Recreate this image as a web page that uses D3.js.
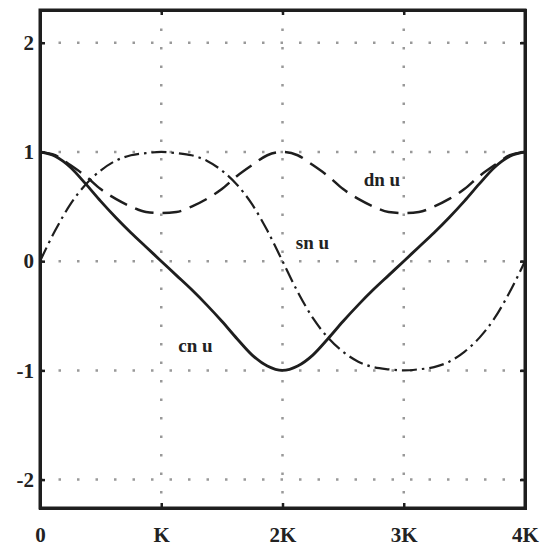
<!DOCTYPE html>
<html>
<head>
<meta charset="utf-8">
<script src="https://cdn.jsdelivr.net/npm/d3@7"></script>
<style>
  body { margin: 0; background: #fff; }
  text { font-family: "Liberation Serif", "DejaVu Serif", serif; fill: #222; }
</style>
</head>
<body>
<div id="chart"></div>
<script>
// u measured in multiples of K
const uK = [0, 0.125, 0.25, 0.375, 0.5, 0.625, 0.75, 0.875, 1,
  1.125, 1.25, 1.375, 1.5, 1.625, 1.75, 1.875, 2,
  2.125, 2.25, 2.375, 2.5, 2.625, 2.75, 2.875, 3,
  3.125, 3.25, 3.375, 3.5, 3.625, 3.75, 3.875, 4];

const snValues = [0, .28, .52, .70, .83, .92, .97, .99, 1,
  .99, .97, .92, .83, .70, .52, .28, 0,
  -.28, -.52, -.70, -.83, -.92, -.97, -.99, -1,
  -.99, -.97, -.92, -.83, -.70, -.52, -.28, 0];

const cnValues = [1, .96, .86, .71, .55, .40, .26, .13, 0,
  -.13, -.26, -.40, -.55, -.71, -.86, -.96, -1,
  -.96, -.86, -.71, -.55, -.40, -.26, -.13, 0,
  .13, .26, .40, .55, .71, .86, .96, 1];

const dnValues = [1, .97, .88, .78, .66, .57, .50, .45, .44,
  .45, .50, .57, .66, .78, .88, .97, 1,
  .97, .88, .78, .66, .57, .50, .45, .44,
  .45, .50, .57, .66, .78, .88, .97, 1];

const xTicks = [0, 1, 2, 3, 4];
const xTickLabels = ["0", "K", "2K", "3K", "4K"];
const yTicks = [-2, -1, 0, 1, 2];
const yTickLabels = ["-2", "-1", "0", "1", "2"];

const seriesNames = ["sn u", "cn u", "dn u"];
const labelAt = { "dn u": [2.67, 0.69], "sn u": [2.11, 0.11], "cn u": [1.14, -0.83] };

const margin = { top: 10, right: 19, bottom: 43, left: 40 },
  width = 544 - margin.left - margin.right,
  height = 551 - margin.top - margin.bottom;

const svg = d3.select("#chart")
  .append("svg")
    .attr("width", width + margin.left + margin.right)
    .attr("height", height + margin.top + margin.bottom)
  .append("g")
    .attr("transform", `translate(${margin.left},${margin.top})`);

const x = d3.scaleLinear().domain([0, 4]).range([0, width]);
const y = d3.scaleLinear().domain([-2.26, 2.3]).range([height, 0]);

// dotted grid
svg.selectAll("xGrid")
  .data(xTicks.slice(1, -1))
  .enter()
  .append("line")
    .attr("x1", d => x(d)).attr("x2", d => x(d))
    .attr("y1", 0).attr("y2", height)
    .attr("stroke", "#999")
    .attr("stroke-width", 2.5)
    .attr("stroke-dasharray", "2.5,16");

svg.selectAll("yGrid")
  .data(yTicks)
  .enter()
  .append("line")
    .attr("x1", 0).attr("x2", width)
    .attr("y1", d => y(d)).attr("y2", d => y(d))
    .attr("stroke", "#999")
    .attr("stroke-width", 2.5)
    .attr("stroke-dasharray", "2.5,16");

// curves
const line = d3.line()
  .x(d => x(d[0]))
  .y(d => y(d[1]))
  .curve(d3.curveMonotoneX);

const series = [
  { name: "dn u", values: dnValues, dash: "19,9", w: 2.5 },
  { name: "sn u", values: snValues, dash: "15,5,2.5,5", w: 2.2 },
  { name: "cn u", values: cnValues, dash: null, w: 2.8 }
];

svg.selectAll("myLines")
  .data(series)
  .enter()
  .append("path")
    .attr("d", d => line(uK.map((u, i) => [u, d.values[i]])))
    .attr("fill", "none")
    .attr("stroke", "#1e1e1e")
    .attr("stroke-width", d => d.w)
    .attr("stroke-dasharray", d => d.dash);

// curve labels
svg.selectAll("myLabels")
  .data(seriesNames)
  .enter()
  .append("text")
    .attr("x", d => x(labelAt[d][0]))
    .attr("y", d => y(labelAt[d][1]))
    .text(d => d)
    .style("font-size", "19px")
    .style("font-weight", "bold");

// frame with inward ticks
const axB = svg.append("g").attr("transform", `translate(0,${height})`)
  .call(d3.axisBottom(x).tickValues(xTicks).tickSize(-5).tickFormat((d, i) => xTickLabels[i]).tickPadding(19));
const axT = svg.append("g")
  .call(d3.axisTop(x).tickValues(xTicks).tickSize(-5).tickFormat(""));
const axL = svg.append("g")
  .call(d3.axisLeft(y).tickValues(yTicks).tickSize(-5).tickFormat((d, i) => yTickLabels[i]).tickPadding(6));
const axR = svg.append("g").attr("transform", `translate(${width},0)`)
  .call(d3.axisRight(y).tickValues(yTicks).tickSize(-5).tickFormat(""));

[axB, axT, axL, axR].forEach(g => {
  g.select(".domain").attr("stroke", "#1e1e1e").attr("stroke-width", 3);
  g.selectAll(".tick line").attr("stroke", "#1e1e1e").attr("stroke-width", 2.5);
  g.selectAll(".tick text")
    .style("font-size", "21px")
    .style("font-weight", "bold")
    .attr("fill", "#222");
});
svg.append("rect")
  .attr("width", width).attr("height", height)
  .attr("fill", "none").attr("stroke", "#1e1e1e").attr("stroke-width", 3);
</script>
</body>
</html>
